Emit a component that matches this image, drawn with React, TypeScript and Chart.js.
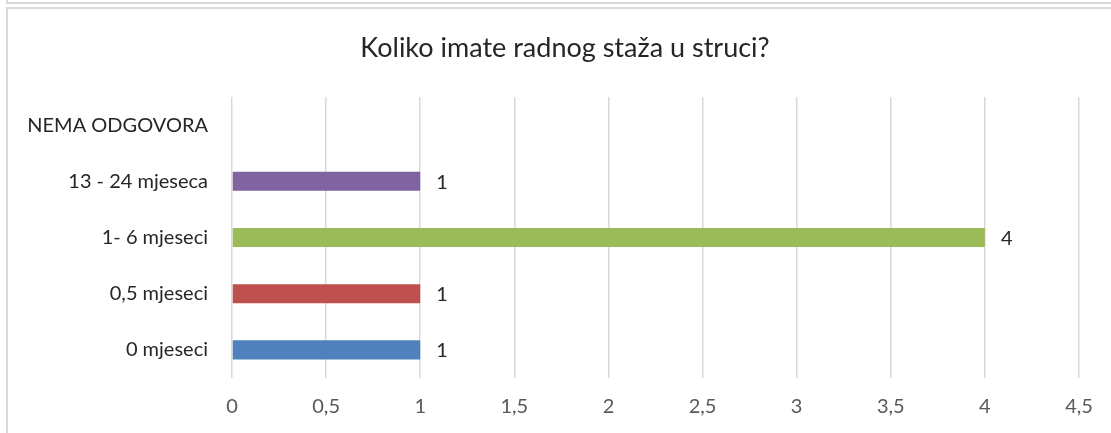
import React, { useEffect, useRef } from "react";
import { Chart, registerables } from "chart.js";

Chart.register(...registerables);

const categories = ["NEMA ODGOVORA", "13 - 24 mjeseca", "1- 6 mjeseci", "0,5 mjeseci", "0 mjeseci"];
const values: (number | null)[] = [null, 1, 4, 1, 1];
const barColors = ["#4F81BD", "#8064A2", "#9BBB59", "#C0504D", "#4F81BD"];
const titleText = "Koliko imate radnog staža u struci?";
const xTicks = [0, 0.5, 1, 1.5, 2, 2.5, 3, 3.5, 4, 4.5];

const FONT = "Lato, 'Noto Sans', sans-serif";

const valueLabels = {
  id: "valueLabels",
  afterDatasetsDraw(chart: any) {
    const ctx = chart.ctx;
    const meta = chart.getDatasetMeta(0);
    ctx.save();
    ctx.font = `20px ${FONT}`;
    ctx.fillStyle = "#262626";
    ctx.textAlign = "left";
    ctx.textBaseline = "middle";
    meta.data.forEach((bar: any, i: number) => {
      const v = values[i];
      if (v === null || v === undefined) return;
      ctx.fillText(String(v), bar.x + 16, bar.y + 1);
    });
    ctx.restore();
  },
};

const centeredTitle = {
  id: "centeredTitle",
  afterDraw(chart: any) {
    const ctx = chart.ctx;
    ctx.save();
    ctx.font = `27px ${FONT}`;
    ctx.fillStyle = "#262626";
    ctx.textAlign = "center";
    ctx.textBaseline = "middle";
    ctx.fillText(titleText, 557, 38);
    ctx.restore();
  },
};

export default function App() {
  const ref = useRef<HTMLCanvasElement>(null);
  useEffect(() => {
    if (!ref.current) return;
    const chart = new Chart(ref.current, {
      type: "bar",
      data: {
        labels: categories,
        datasets: [
          {
            data: values as any,
            backgroundColor: barColors,
            borderWidth: 0,
            barPercentage: 0.34,
            categoryPercentage: 1,
          },
        ],
      },
      options: {
        indexAxis: "y",
        animation: false,
        responsive: false,
        maintainAspectRatio: false,
        layout: { padding: { left: 0, right: 45, top: 87, bottom: 0 } },
        plugins: {
          legend: { display: false },
          tooltip: { enabled: false },
          title: { display: false },
        },
        scales: {
          x: {
            type: "linear",
            min: 0,
            max: 4.5,
            afterBuildTicks: (scale: any) => {
              scale.ticks = xTicks.map((v) => ({ value: v }));
            },
            ticks: {
              color: "#595959",
              font: { family: FONT, size: 20 },
              padding: 17,
              callback: (v: any) => String(v).replace(".", ","),
            },
            grid: { color: "#d9d9d9", lineWidth: 1.5, drawTicks: false },
            border: { display: false },
          },
          y: {
            afterFit: (scale: any) => {
              scale.width = 224;
            },
            ticks: {
              color: "#262626",
              font: { family: FONT, size: 20 },
              padding: 24,
            },
            grid: { display: false, drawTicks: false },
            border: { display: false },
          },
        },
      },
      plugins: [valueLabels, centeredTitle],
    });
    return () => chart.destroy();
  }, []);

  return (
    <div
      style={{
        position: "fixed",
        left: 0,
        top: 0,
        width: 1111,
        height: 433,
        overflow: "hidden",
        background: "#fff",
      }}
    >
      <div
        style={{
          position: "absolute",
          left: 6,
          top: -30,
          width: 1200,
          height: 34,
          border: "2px solid #d9d9d9",
          boxSizing: "border-box",
        }}
      />
      <div
        style={{
          position: "absolute",
          left: 6,
          top: 7,
          width: 1200,
          height: 500,
          border: "2px solid #d9d9d9",
          boxSizing: "border-box",
        }}
      />
      <canvas
        ref={ref}
        width={1116}
        height={426}
        style={{ position: "absolute", left: 8, top: 10, width: 1116, height: 426 }}
      />
    </div>
  );
}
